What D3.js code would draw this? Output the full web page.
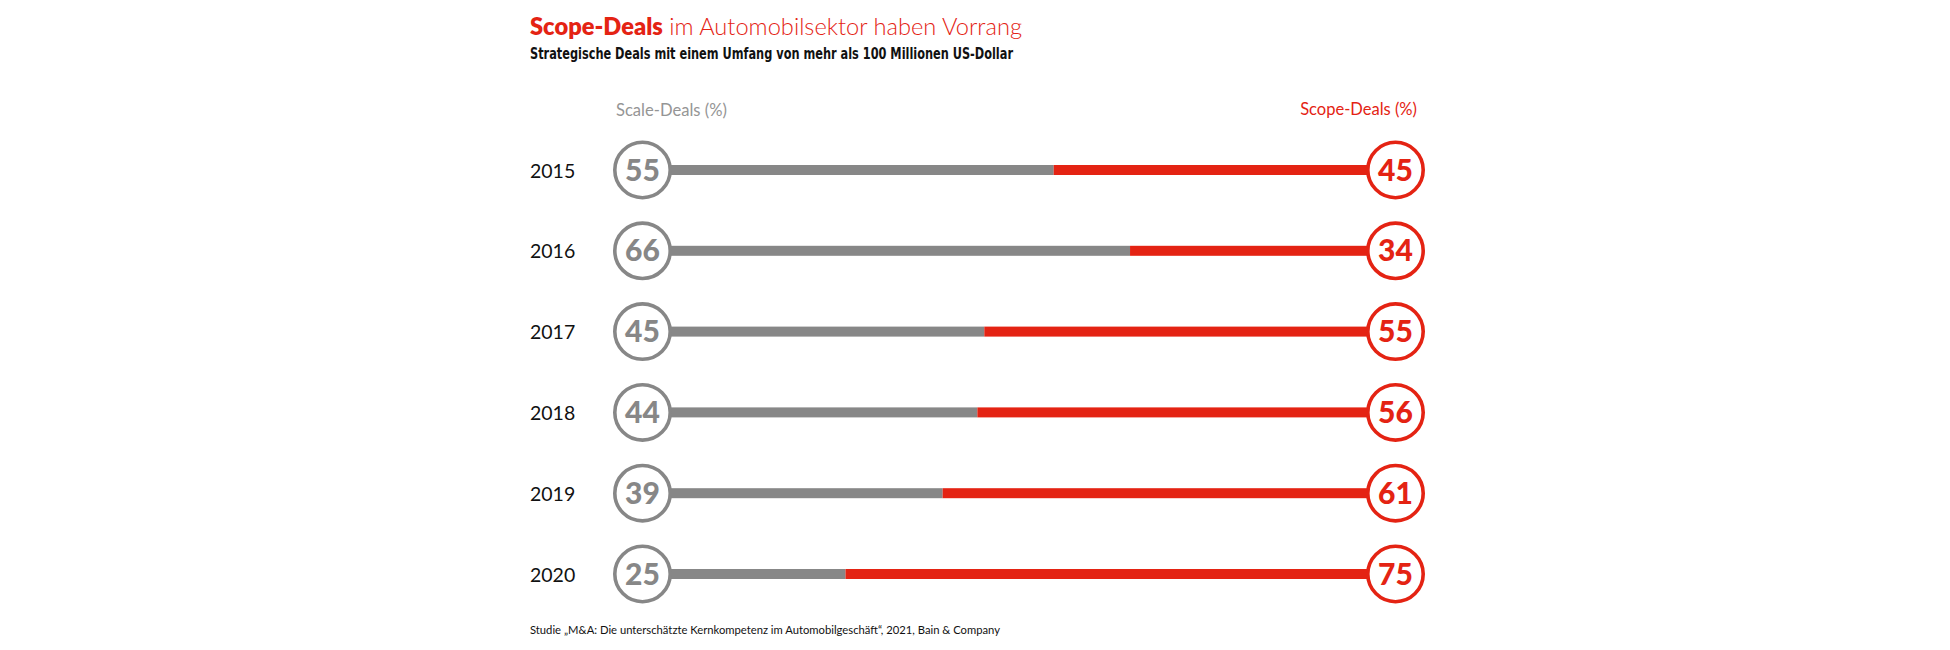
<!DOCTYPE html>
<html><head><meta charset="utf-8">
<script src="https://cdn.jsdelivr.net/npm/d3@7"></script>
<style>body{margin:0;background:#fff;} svg{display:block;}</style>
</head><body>
<svg id="c" width="1950" height="650"></svg>
<script>
const years = ["2015","2016","2017","2018","2019","2020"];
const scaleDeals = [55,66,45,44,39,25];
const scopeDeals = [45,34,55,56,61,75];
const titleBold = "Scope-Deals";
const titleRest = " im Automobilsektor haben Vorrang";
const subtitle = "Strategische Deals mit einem Umfang von mehr als 100 Millionen US-Dollar";
const leftLabel = "Scale-Deals (%)";
const rightLabel = "Scope-Deals (%)";
const source = "Studie \u201EM&A: Die untersch\u00E4tzte Kernkompetenz im Automobilgesch\u00E4ft\u201C, 2021, Bain & Company";

const GRAY = "#878787", RED = "#e42313";
const svg = d3.select("#c");
const R = 29.5, SW = 3.6;
const x = d3.scaleLinear().domain([0,100]).range([672,1366]);
const y = d3.scalePoint().domain(years).range([170,574]);
const font = "Lato, 'Open Sans', sans-serif";

function fit(sel, w){
  const n = sel.node(); const cur = n.getComputedTextLength();
  const fs = +sel.attr("font-size");
  sel.attr("font-size", fs*w/cur);
}

// title
const t = svg.append("text").attr("x",530).attr("y",35).attr("font-family",font).attr("font-size",23.5).attr("fill",RED)
  .attr("textLength",492).attr("lengthAdjust","spacingAndGlyphs");
t.append("tspan").attr("font-weight",800).text(titleBold);
t.append("tspan").attr("font-weight",300).text(titleRest);
svg.append("text").attr("x",530).attr("y",59).attr("font-family","'Liberation Sans Narrow','DejaVu Sans Condensed',sans-serif")
  .attr("font-weight",700).attr("font-size",15).attr("fill","#111")
  .attr("textLength",483).attr("lengthAdjust","spacingAndGlyphs").text(subtitle);

const ll = svg.append("text").attr("x",616).attr("y",116).attr("font-family",font).attr("font-weight",400).attr("font-size",17).attr("fill","#959595").text(leftLabel);
fit(ll,111);
const rl = svg.append("text").attr("x",1417).attr("y",115).attr("text-anchor","end").attr("font-family",font).attr("font-weight",400).attr("font-size",17).attr("fill",RED).text(rightLabel);
fit(rl,117);

const rows = years.map((yr,i)=>({yr, a:scaleDeals[i], b:scopeDeals[i]}));
const g = svg.selectAll("g.row").data(rows).enter().append("g").attr("class","row");

g.append("text").attr("x",530).attr("y",d=>y(d.yr)+7.5).attr("font-family",font).attr("font-weight",400).attr("font-size",19.5).attr("fill","#111").text(d=>d.yr);

g.append("rect").attr("x",x(0)-2).attr("y",d=>y(d.yr)-5).attr("width",d=>x(d.a)-x(0)+2).attr("height",10).attr("fill",GRAY);
g.append("rect").attr("x",d=>x(d.a)).attr("y",d=>y(d.yr)-5).attr("width",d=>x(100)-x(d.a)+2).attr("height",10).attr("fill",RED);

const cxL = x(0)-R, cxR = x(100)+R;
g.append("circle").attr("cx",cxL).attr("cy",d=>y(d.yr)).attr("r",R-SW/2).attr("fill","#fff").attr("stroke",GRAY).attr("stroke-width",SW);
g.append("circle").attr("cx",cxR).attr("cy",d=>y(d.yr)).attr("r",R-SW/2).attr("fill","#fff").attr("stroke",RED).attr("stroke-width",SW);

g.append("text").attr("x",cxL).attr("y",d=>y(d.yr)+10.5).attr("text-anchor","middle").attr("font-family",font).attr("font-weight",900).attr("font-size",30).attr("fill",GRAY).text(d=>d.a);
g.append("text").attr("x",cxR).attr("y",d=>y(d.yr)+10.5).attr("text-anchor","middle").attr("font-family",font).attr("font-weight",900).attr("font-size",30).attr("fill",RED).text(d=>d.b);

svg.append("text").attr("x",530).attr("y",634).attr("font-family",font).attr("font-weight",400).attr("font-size",11.8).attr("fill","#111")
  .attr("textLength",470).attr("lengthAdjust","spacingAndGlyphs").text(source);
</script>
</body></html>
